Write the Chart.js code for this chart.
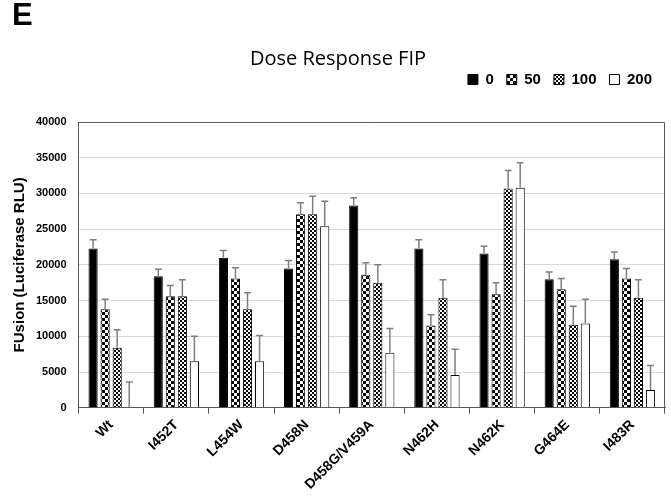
<!DOCTYPE html>
<html>
<head>
<meta charset="utf-8">
<script src="https://cdn.jsdelivr.net/npm/chart.js@4"></script>
<style>
  body { margin: 0; background: #fff; }
  #wrap { position: relative; width: 671px; height: 502px; }
  #panel { position: absolute; left: 12px; top: -3px; font: bold 31px "Liberation Sans", Arial, sans-serif; color: #000; }
</style>
</head>
<body>
<div id="wrap">
  <canvas id="chart" width="671" height="502"></canvas>
  <div id="panel">E</div>
</div>
<script>
const categories = ["Wt", "I452T", "L454W", "D458N", "D458G/V459A", "N462H", "N462K", "G464E", "I483R"];
const doseLabels = ["0", "50", "100", "200"];

const dose0 = [22300, 18400, 21000, 19500, 28300, 22300, 21600, 18000, 20800];
const dose50 = [13800, 15600, 18100, 27100, 18600, 11500, 15900, 16600, 18100];
const dose100 = [8400, 15600, 13800, 27100, 17500, 15400, 30700, 11600, 15400];
const dose200 = [150, 6500, 6500, 25400, 7700, 4600, 30800, 11800, 2500];

const err0 = [1200, 1000, 1000, 1100, 1100, 1200, 1000, 1000, 1000];
const err50 = [1400, 1500, 1500, 1600, 1700, 1500, 1600, 1500, 1400];
const err100 = [2500, 2300, 2300, 2500, 2500, 2500, 2500, 2600, 2500];
const err200 = [3450, 3500, 3600, 3500, 3400, 3600, 3500, 3400, 3400];

const yTicks = [0, 5000, 10000, 15000, 20000, 25000, 30000, 35000, 40000];

// small checker tiles used as bar fills
function checker(size) {
  const c = document.createElement("canvas");
  c.width = size * 2;
  c.height = size * 2;
  const g = c.getContext("2d");
  g.fillStyle = "#fff";
  g.fillRect(0, 0, c.width, c.height);
  g.fillStyle = "#000";
  g.fillRect(0, 0, size, size);
  g.fillRect(size, size, size, size);
  return g.createPattern(c, "repeat");
}

const ctx = document.getElementById("chart").getContext("2d");
const fills = ["#000000", checker(3), checker(2), "#ffffff"];
const values = [dose0, dose50, dose100, dose200];
const errors = [err0, err50, err100, err200];

const errorBars = {
  id: "errorBars",
  afterDatasetsDraw(chart) {
    const g = chart.ctx;
    const y = chart.scales.y;
    g.save();
    g.strokeStyle = "#7f7f7f";
    g.lineWidth = 1.5;
    chart.data.datasets.forEach((ds, i) => {
      chart.getDatasetMeta(i).data.forEach((bar, j) => {
        const top = y.getPixelForValue(ds.data[j] + errors[i][j]);
        g.beginPath();
        g.moveTo(bar.x, bar.y);
        g.lineTo(bar.x, top);
        g.moveTo(bar.x - 3.5, top);
        g.lineTo(bar.x + 3.5, top);
        g.stroke();
      });
    });
    g.restore();
  },
};

const frame = {
  id: "frame",
  afterDraw(chart) {
    const a = chart.chartArea;
    const g = chart.ctx;
    g.save();
    g.strokeStyle = "#595959";
    g.lineWidth = 1;
    g.beginPath();
    g.moveTo(a.left, a.top + 0.5);
    g.lineTo(a.right - 0.5, a.top + 0.5);
    g.lineTo(a.right - 0.5, a.bottom);
    g.stroke();
    g.restore();
  },
};

const legendGap = {
  id: "legendGap",
  beforeInit(chart) {
    const fit = chart.legend.fit;
    chart.legend.fit = function () {
      fit.bind(chart.legend)();
      this.height += 25;
    };
  },
};

new Chart(ctx, {
  type: "bar",
  data: {
    labels: categories,
    datasets: doseLabels.map((label, i) => ({
      label,
      data: values[i],
      backgroundColor: fills[i],
      borderColor: "#000",
      borderWidth: 1,
      categoryPercentage: 0.74,
      barPercentage: 0.76,
    })),
  },
  options: {
    responsive: false,
    animation: false,
    layout: { padding: { left: 11, right: 6, top: 0, bottom: 6 } },
    plugins: {
      title: {
        display: true,
        text: "Dose Response FIP",
        color: "#000",
        font: { family: "'Open Sans', sans-serif", size: 20, weight: "normal" },
        padding: { top: 47, bottom: -12 },
      },
      legend: {
        position: "top",
        align: "end",
        labels: {
          color: "#000",
          boxWidth: 10,
          boxHeight: 10,
          padding: 13,
          font: { family: "'Liberation Sans', Arial, sans-serif", size: 15, weight: "bold" },
        },
      },
      tooltip: { enabled: false },
    },
    scales: {
      x: {
        border: { color: "#595959" },
        grid: { display: true, drawOnChartArea: false, tickLength: 6, color: "#595959" },
        ticks: {
          color: "#000",
          maxRotation: 45,
          minRotation: 45,
          font: { family: "'Liberation Sans', Arial, sans-serif", size: 14, weight: "bold" },
        },
      },
      y: {
        min: 0,
        max: 40000,
        afterBuildTicks(scale) {
          scale.ticks = yTicks.map((v) => ({ value: v }));
        },
        border: { color: "#595959" },
        grid: { color: "#d9d9d9", drawTicks: false },
        ticks: {
          color: "#000",
          padding: 12,
          callback: (v) => String(v),
          font: { family: "'Liberation Sans', Arial, sans-serif", size: 11, weight: "bold" },
        },
        title: {
          display: true,
          text: "FUsion (Luciferase RLU)",
          color: "#000",
          padding: { top: 0, bottom: -5 },
          font: { family: "'Liberation Sans', Arial, sans-serif", size: 15, weight: "bold" },
        },
      },
    },
  },
  plugins: [errorBars, frame, legendGap],
});
</script>
</body>
</html>
